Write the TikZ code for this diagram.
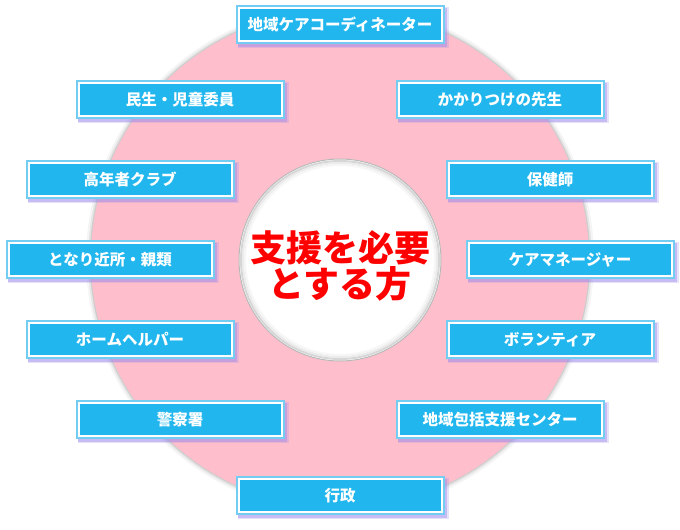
\documentclass[tikz,border=0pt]{standalone}
\usepackage{fontspec}
\newfontfamily\jp{Noto Sans CJK JP}
\definecolor{boxblue}{RGB}{33,183,238}
\definecolor{checkblue}{RGB}{115,205,243}
\definecolor{shadowc}{RGB}{160,140,235}
\definecolor{pinkc}{RGB}{255,190,204}
\definecolor{hubred}{RGB}{255,0,0}
\begin{document}
\begin{tikzpicture}[x=1pt,y=-1pt,
  box/.style={rectangle, minimum width=203pt, minimum height=33pt, inner sep=0pt,
    fill=boxblue, draw=white, line width=2pt, text=white,
    font=\jp\bfseries\fontsize{15.5}{18}\selectfont,
    preaction={draw=shadowc, fill=shadowc, line width=8pt, opacity=.25,
      transform canvas={xshift=3pt,yshift=-3pt}},
    preaction={draw=shadowc, fill=shadowc, line width=6pt, opacity=.45,
      transform canvas={xshift=2.5pt,yshift=-2.5pt}},
    preaction={draw=checkblue, line width=6pt}},
  hubtext/.style={align=center, text=hubred, inner sep=0pt,
    font=\jp\bfseries\fontsize{36}{36}\selectfont}]
\useasboundingbox (0,0) rectangle (680,530);
\fill[white] (0,0) rectangle (680,530);
% large pink ring
\coordinate (c) at (340,259);
\fill[black,opacity=.04] (c) circle (254pt);
\fill[black,opacity=.06] (c) circle (252pt);
\fill[black,opacity=.10] (c) circle (250.3pt);
\fill[pinkc] (c) circle (249pt);
% central circle
\node[circle, minimum size=202pt, inner sep=0pt, fill=white, draw=gray!55, line width=1pt] (hub) at (340,260) {};
\draw[gray!32, line width=2pt] (hub.center) circle (99pt);
\draw[gray!16, line width=2pt] (hub.center) circle (97pt);
\draw[gray!7, line width=2pt] (hub.center) circle (95pt);
\node[hubtext] (hubt) at (340,266) {支援を必要\\とする方};
% boxes
\node[box] (b1)  at (340,24.5)  {地域ケアコーディネーター};
\node[box] (b2)  at (180,99.5)  {民生・児童委員};
\node[box] (b3)  at (500,99.5)  {かかりつけの先生};
\node[box] (b4)  at (130,179.5) {高年者クラブ};
\node[box] (b5)  at (550,179.5) {保健師};
\node[box] (b6)  at (110,259.5) {となり近所・親類};
\node[box] (b7)  at (570,259.5) {ケアマネージャー};
\node[box] (b8)  at (130,339.5) {ホームヘルパー};
\node[box] (b9)  at (550,339.5) {ボランティア};
\node[box] (b10) at (180,419.5) {警察署};
\node[box] (b11) at (500,419.5) {地域包括支援センター};
\node[box] (b12) at (340,495.5) {行政};
\end{tikzpicture}
\end{document}
